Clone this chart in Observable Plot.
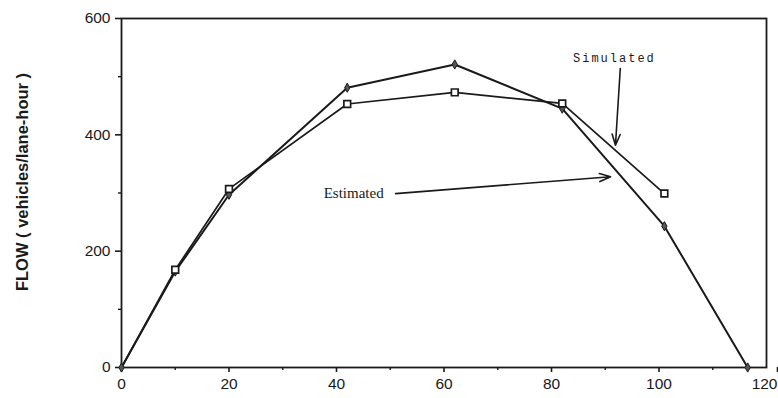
<!DOCTYPE html>
<html><head><meta charset="utf-8">
<script src="https://cdn.jsdelivr.net/npm/d3@7"></script>
<script src="https://cdn.jsdelivr.net/npm/@observablehq/plot@0.6"></script>
<style>
body{margin:0;background:#fff;}
</style>
</head><body><div id="chart"></div>
<script>
// Estimated (diamonds)
const estX = [0, 10, 20, 42, 62, 82, 101, 116.5];
const estY = [0, 165, 297, 481, 521, 445, 243, 0];
// Simulated (open squares)
const simX = [0, 10, 20, 42, 62, 82, 101];
const simY = [0, 168, 307, 453, 473, 454, 299];
const simMarkerFrom = 1; // no square drawn at origin
const xTicks = [0, 20, 40, 60, 80, 100];
const xLastTick = [120];
const xMinor = [10, 30, 50, 70, 90, 110];
const yTicks = [0, 200, 400, 600];
const yMinor = [100, 300, 500];
const labels = [
  {text: "Simulated", x: 91.7, y: 531},
  {text: "Estimated", x: 43.2, y: 300}
];
const arrows = [
  {x1: 92.8, y1: 514, x2: 91.9, y2: 382},
  {x1: 51, y1: 299, x2: 91, y2: 328}
];

const est = estX.map((x, i) => ({x, y: estY[i]}));
const sim = simX.map((x, i) => ({x, y: simY[i]}));

const ink = "#1a1a1a";
const chart = Plot.plot({
  width: 778,
  height: 398,
  marginLeft: 121,
  marginRight: 12,
  marginTop: 18,
  marginBottom: 31,
  style: {fontFamily: "'Liberation Sans', Arial, sans-serif", fontSize: "16px", color: ink, background: "#fff"},
  x: {domain: [0, 120]},
  y: {domain: [0, 600]},
  marks: [
    Plot.frame({stroke: ink, strokeWidth: 1.8}),
    Plot.axisX({ticks: xTicks, tickSize: 5, tickPadding: 5, label: null, fontSize: 15.5, stroke: ink, strokeWidth: 1.6}),
    Plot.axisX({ticks: xLastTick, tickSize: 5, tickPadding: 5, label: null, fontSize: 15.5, textAnchor: "end", dx: 11, stroke: ink, strokeWidth: 1.6}),
    Plot.axisX({ticks: xMinor, tickSize: 3, tickFormat: () => "", label: null, stroke: ink, strokeWidth: 1.4}),
    Plot.axisY({ticks: yTicks, tickSize: 6, tickPadding: 5, label: null, fontSize: 15.5, stroke: ink, strokeWidth: 1.6}),
    Plot.axisY({ticks: yMinor, tickSize: 3, tickFormat: () => "", label: null, stroke: ink, strokeWidth: 1.4}),
    Plot.line(sim, {x: "x", y: "y", stroke: ink, strokeWidth: 1.7}),
    Plot.line(est, {x: "x", y: "y", stroke: ink, strokeWidth: 2}),
    Plot.dot(est, {x: "x", y: "y", symbol: "diamond", r: 2.8, fill: "#555", stroke: ink, strokeWidth: 1}),
    Plot.dot(sim.slice(simMarkerFrom), {x: "x", y: "y", symbol: "square", r: 3.8, fill: "#fff", stroke: ink, strokeWidth: 1.7}),
    Plot.arrow(arrows, {x1: "x1", y1: "y1", x2: "x2", y2: "y2", stroke: ink, strokeWidth: 1.6, headLength: 11, headAngle: 40}),
    Plot.text(labels.slice(0, 1), {x: "x", y: "y", text: "text", fontFamily: "'Liberation Mono', 'DejaVu Sans Mono', monospace", fontSize: 12, fill: ink}),
    Plot.text(labels.slice(1), {x: "x", y: "y", text: "text", fontFamily: "'Liberation Serif', 'DejaVu Serif', serif", fontSize: 15, fill: ink})
  ]
});
const svg = d3.select(chart);
svg.selectAll("text").filter(function(){return this.textContent === "Simulated";}).style("letter-spacing", "2px");
svg.append("text")
  .attr("transform", "translate(28,182) rotate(-90)")
  .attr("text-anchor", "middle")
  .attr("font-family", "'Liberation Sans', Arial, sans-serif")
  .attr("font-weight", "bold")
  .attr("font-size", 16.5)
  .attr("fill", ink)
  .text("FLOW ( vehicles/lane-hour )");
document.getElementById("chart").appendChild(chart);
</script>
</body></html>
